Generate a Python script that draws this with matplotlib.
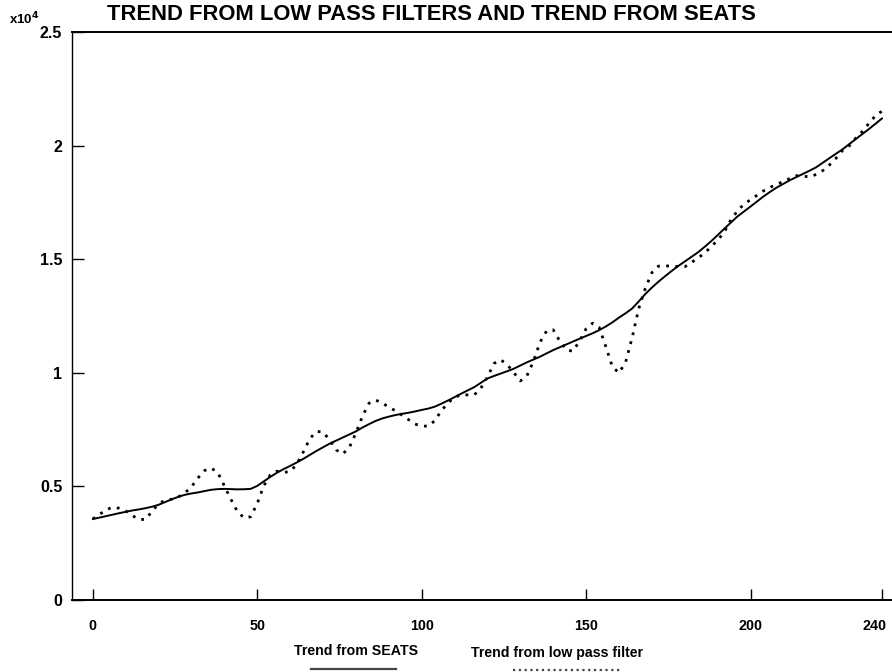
import matplotlib
matplotlib.use("Agg")
import matplotlib.pyplot as plt
import matplotlib.transforms as mtransforms
from matplotlib.lines import Line2D

plt.rcParams['font.family'] = ['Liberation Sans', 'DejaVu Sans']

# ---- data ----
title = "TREND FROM LOW PASS FILTERS AND TREND FROM SEATS"
label_seats = "Trend from SEATS"
label_lpf = "Trend from low pass filter"

seats_x = list(range(0, 241, 2))
seats_y = [3565, 3625, 3690, 3755, 3820, 3880, 3940, 3985, 4040, 4105,
           4190, 4310, 4430, 4540, 4630, 4690, 4735, 4795, 4850, 4880,
           4890, 4880, 4870, 4875, 4890, 5020, 5220, 5420, 5600, 5760,
           5900, 6050, 6210, 6385, 6560, 6720, 6880, 7015, 7150, 7285,
           7420, 7590, 7740, 7880, 7990, 8070, 8140, 8195, 8240, 8300,
           8365, 8425, 8510, 8640, 8780, 8930, 9080, 9225, 9370, 9560,
           9750, 9860, 9965, 10070, 10180, 10320, 10460, 10585, 10710, 10855,
           11000, 11125, 11250, 11375, 11500, 11620, 11740, 11880, 12040, 12220,
           12430, 12620, 12830, 13140, 13470, 13750, 14010, 14250, 14480, 14700,
           14900, 15100, 15300, 15540, 15790, 16060, 16340, 16610, 16880, 17100,
           17320, 17545, 17770, 17970, 18160, 18320, 18480, 18620, 18760, 18900,
           19050, 19250, 19450, 19645, 19840, 20065, 20290, 20510, 20730, 20965,
           21200]

lpf_x = list(range(0, 241, 2))
lpf_y = [3565, 3762, 3960, 4088, 4039, 3920, 3723, 3545, 3545, 3891,
         4236, 4384, 4434, 4533, 4710, 4977, 5372, 5698, 5807, 5619,
         5027, 4434, 3891, 3614, 3663, 4236, 5027, 5501, 5669, 5619,
         5649, 5965, 6508, 7101, 7417, 7397, 7051, 6607, 6429, 6706,
         7348, 8088, 8661, 8799, 8681, 8483, 8335, 8138, 7940, 7743,
         7654, 7654, 7891, 8335, 8671, 8928, 9027, 9027, 9027, 9323,
         9817, 10410, 10577, 10360, 10014, 9639, 9866, 10508, 11348, 11842,
         11891, 11397, 11002, 10953, 11397, 11940, 12187, 11990, 11150, 10261,
         9995, 10459, 11545, 12829, 13718, 14410, 14696, 14706, 14696, 14677,
         14667, 14854, 15052, 15269, 15545, 15842, 16188, 16730, 17126, 17422,
         17619, 17817, 18014, 18162, 18310, 18409, 18558, 18676, 18656, 18617,
         18735, 18903, 19150, 19447, 19792, 19990, 20334, 20631, 20977, 21323,
         21521]

xticks = [0, 50, 100, 150, 200, 240]
yticks = [0, 5000, 10000, 15000, 20000, 25000]
yticklabels = ["0", "0.5", "1", "1.5", "2", "2.5"]

# ---- figure ----
fig = plt.figure(figsize=(8.92, 6.72), dpi=100)
ax = fig.add_axes([72/892, 72/672, (892-72)/892 + 0.01, (600-32)/672])

ax.plot(seats_x, seats_y, color='black', lw=1.4, solid_capstyle='round',
        solid_joinstyle='round')
ax.plot(lpf_x, lpf_y, color='black', lw=2.0, linestyle=(0, (1.0, 2.3)))

ax.set_xlim(-6.3, 243 + 0.01*892/3.29)
ax.set_ylim(0, 25000)

ax.set_xticks(xticks)
ax.set_xticklabels([str(t) for t in xticks])
ax.set_yticks(yticks)
ax.set_yticklabels(yticklabels)

ax.tick_params(axis='x', direction='in', length=8, width=1.0, pad=13.5,
               labelsize=10.3)
ax.tick_params(axis='y', direction='in', length=8.5, width=1.0, pad=7,
               labelsize=11.5)
for lab in ax.get_xticklabels() + ax.get_yticklabels():
    lab.set_fontweight('bold')

# nudge the last x label so it stays inside the figure, as in the original
last = ax.get_xticklabels()[-1]
last.set_transform(last.get_transform() +
                   mtransforms.ScaledTranslation(-8/100, 0, fig.dpi_scale_trans))

ax.spines['right'].set_visible(False)
ax.spines['top'].set_linewidth(1.4)
ax.spines['bottom'].set_linewidth(1.4)
ax.spines['left'].set_linewidth(1.0)

# title and multiplier
fig.text(431/892, 1 - 15/672, title, ha='center', va='center',
         fontsize=15.8, fontweight='bold')
fig.text(9/892, 1 - 19/672, r"x10$^{\mathbf{4}}$", ha='left', va='center',
         fontsize=9.5, fontweight='bold')

# legend below
fig.text(356/892, 1 - 651/672, label_seats, ha='center', va='center',
         fontsize=10.2, fontweight='bold')
fig.text(557/892, 1 - 653/672, label_lpf, ha='center', va='center',
         fontsize=10.2, fontweight='bold')
fig.add_artist(Line2D([311/892, 396/892], [1 - 669/672, 1 - 669/672],
                      transform=fig.transFigure, color='#444444', lw=1.6))
fig.add_artist(Line2D([513/892, 620/892], [1 - 670/672, 1 - 670/672],
                      transform=fig.transFigure, color='#444444', lw=1.6,
                      linestyle=(0, (1.0, 1.6))))

fig.savefig("out.png", dpi=100)
